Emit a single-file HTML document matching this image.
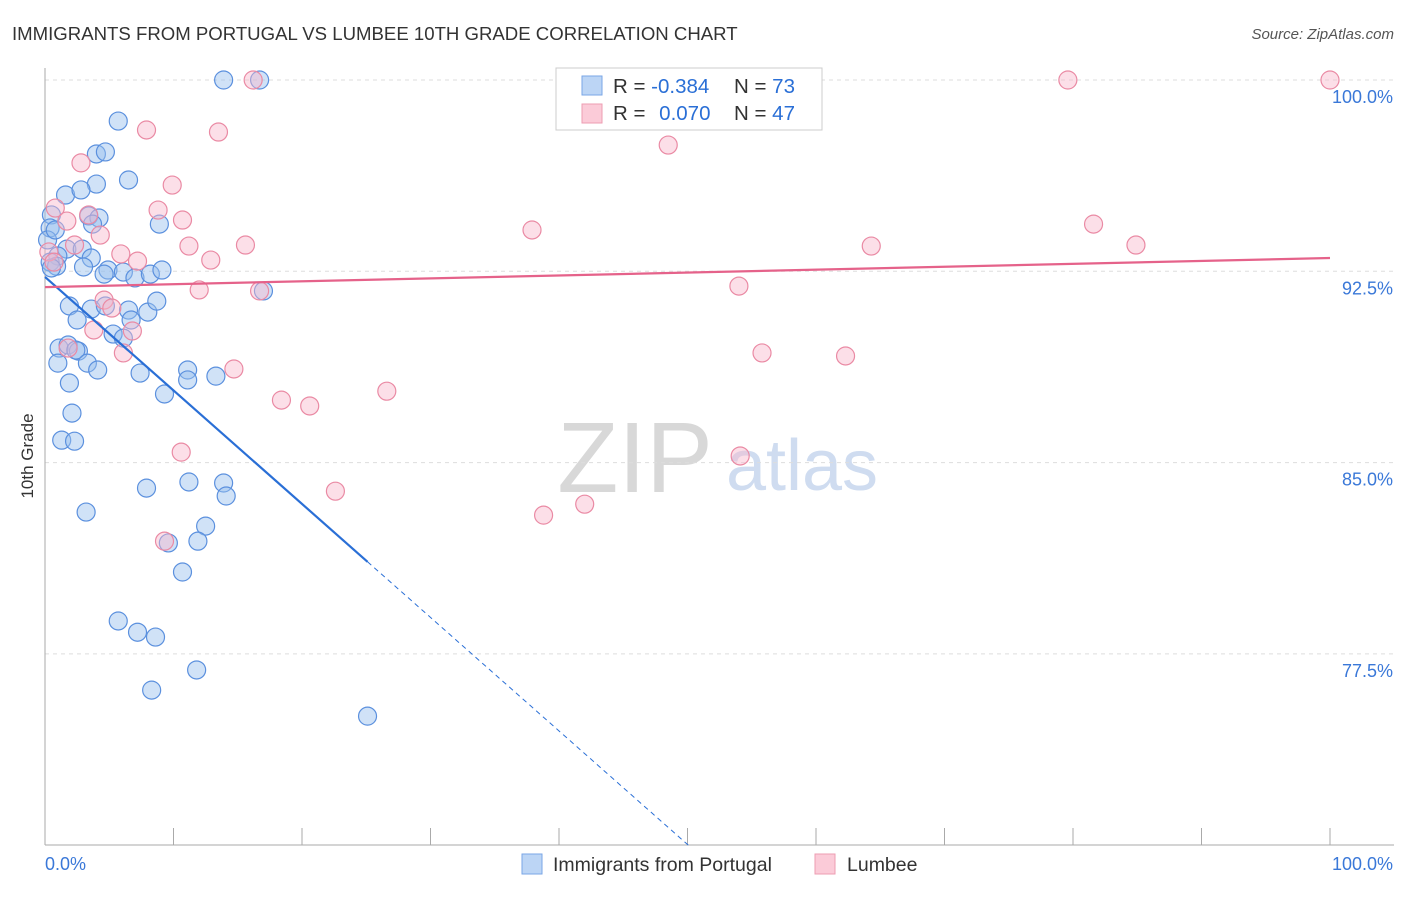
<!DOCTYPE html>
<html><head><meta charset="utf-8"><style>
body{margin:0;background:#fff;font-family:"Liberation Sans",sans-serif;}
svg text{font-family:"Liberation Sans",sans-serif;}
</style></head><body>
<svg id="chart" width="1406" height="892" xmlns="http://www.w3.org/2000/svg">
<text x="12" y="40" font-size="18.6" fill="#333">IMMIGRANTS FROM PORTUGAL VS LUMBEE 10TH GRADE CORRELATION CHART</text>
<text x="1394" y="39" font-size="15" fill="#555" font-style="italic" text-anchor="end">Source: ZipAtlas.com</text>
<g>
<text x="635" y="492" font-size="100" font-family="Liberation Serif, serif" fill="#d8d8d8" text-anchor="middle">ZIP</text>
<text x="802" y="490" font-size="72" fill="#cfdcf0" text-anchor="middle">atlas</text>
</g>
<g id="grid"></g>
<g id="axes"></g>
<g id="marks"></g>
<text transform="translate(33,456) rotate(-90)" font-size="17" fill="#333" text-anchor="middle">10th Grade</text>
<g>
<rect x="556" y="68" width="266" height="62" fill="#fff" stroke="#ccc"/>
<rect x="582" y="76" width="20" height="19" fill="#bcd5f5" stroke="#7aa6e6"/>
<rect x="582" y="104" width="20" height="19" fill="#fbcbd8" stroke="#ee9db2"/>
<text x="613" y="93" font-size="20.5" fill="#333">R = <tspan fill="#2a6fd6">-0.384</tspan></text>
<text x="734" y="93" font-size="20.5" fill="#333">N = <tspan fill="#2a6fd6">73</tspan></text>
<text x="613" y="120" font-size="20.5" fill="#333">R = <tspan fill="#2a6fd6" dx="8">0.070</tspan></text>
<text x="734" y="120" font-size="20.5" fill="#333">N = <tspan fill="#2a6fd6">47</tspan></text>
</g>
<g>
<rect x="522" y="854" width="20" height="20" fill="#bcd5f5" stroke="#7aa6e6"/>
<text x="553" y="871" font-size="19.5" fill="#333">Immigrants from Portugal</text>
<rect x="815" y="854" width="20" height="20" fill="#fbcbd8" stroke="#ee9db2"/>
<text x="847" y="871" font-size="19.5" fill="#333">Lumbee</text>
</g>
</svg>
<script>
const blueX=[13.9,16.7,5.7,4.0,4.7,6.5,4.0,1.6,2.8,0.5,3.4,4.2,3.7,8.9,0.4,0.2,1.7,2.9,1.0,3.6,0.4,0.9,0.5,3.0,4.9,4.6,6.1,7.0,8.2,9.1,17.0,1.9,3.6,4.7,6.5,8.0,8.7,2.5,6.7,5.3,6.1,1.1,1.8,2.6,2.4,1.0,3.3,4.1,7.4,11.1,11.1,13.3,9.3,1.9,2.1,1.3,2.3,3.2,7.9,11.2,13.9,14.1,12.5,9.6,11.9,10.7,5.7,7.2,8.6,11.8,8.3,25.1,0.8];
const blueY=[100,100,98.39,97.10,97.18,96.08,95.92,95.49,95.69,94.71,94.67,94.59,94.35,94.35,94.20,93.73,93.37,93.37,93.10,93.02,92.86,92.70,92.63,92.67,92.55,92.39,92.47,92.24,92.39,92.55,91.73,91.14,91.02,91.14,90.98,90.90,91.33,90.59,90.59,90.04,89.88,89.49,89.61,89.37,89.41,88.90,88.90,88.63,88.51,88.63,88.24,88.39,87.69,88.12,86.94,85.88,85.84,83.06,84.00,84.24,84.20,83.69,82.51,81.85,81.92,80.71,78.79,78.35,78.16,76.87,76.08,75.06,94.12];
const pinkX=[16.2,79.6,100,7.9,13.5,48.5,2.8,9.9,0.8,1.7,8.8,3.4,10.7,37.9,81.6,4.3,2.3,11.2,15.6,64.3,84.9,5.9,7.2,12.9,0.3,0.7,12.0,16.7,54.0,4.6,5.2,3.8,6.8,6.1,55.8,62.3,14.7,18.4,26.6,20.6,10.6,54.1,22.6,38.8,42.0,9.3,1.8];
const pinkY=[100,100,100,98.04,97.96,97.45,96.75,95.88,94.98,94.47,94.90,94.71,94.51,94.12,94.35,93.92,93.53,93.49,93.53,93.49,93.53,93.18,92.90,92.94,93.26,92.86,91.77,91.73,91.92,91.37,91.06,90.20,90.16,89.30,89.30,89.18,88.67,87.45,87.80,87.22,85.41,85.26,83.88,82.94,83.37,81.92,89.49];
const yTicks=[100,92.5,85,77.5];
const yTickLabels=["100.0%","92.5%","85.0%","77.5%"];
const xTicks=[0,10,20,30,40,50,60,70,80,90,100];
const blueTrend=[92.28,-0.445];
const pinkTrend=[91.88,0.0114];
const blueSolidEnd=25.1;

const NS="http://www.w3.org/2000/svg";
const L=45,R=1330,T=80,B=845;
function sx(v){return L+(R-L)*v/100;}
function sy(v){return T+(100-v)/7.5*191.3;}
function mk(tag,attrs,parent){const e=document.createElementNS(NS,tag);for(const k in attrs)e.setAttribute(k,attrs[k]);document.getElementById(parent).appendChild(e);return e;}

yTicks.forEach((t,i)=>{
  const g=mk('line',{x1:L,x2:1394,y1:sy(t),y2:sy(t),stroke:'#ddd','stroke-dasharray':'4,4'},'grid');
  
  
  const tx=mk('text',{x:1393,y:sy(t)+23,'font-size':18,fill:'#3a78d8','text-anchor':'end'},'axes');
  tx.textContent=yTickLabels[i];
  
  
});
let ax=mk('line',{x1:L,x2:L,y1:68,y2:B,stroke:'#aaa'},'axes');


ax=mk('line',{x1:L,x2:1394,y1:B,y2:B,stroke:'#aaa'},'axes');


xTicks.forEach(t=>{
  const tk=mk('line',{x1:sx(t),x2:sx(t),y1:828,y2:B,stroke:'#aaa'},'axes');
  
  
});
let xl=mk('text',{x:45,y:870,'font-size':18,fill:'#3a78d8'},'axes');xl.textContent='0.0%';


xl=mk('text',{x:1393,y:870,'font-size':18,fill:'#3a78d8','text-anchor':'end'},'axes');xl.textContent='100.0%';



blueX.forEach((x,i)=>{
  const c=mk('circle',{cx:sx(x),cy:sy(blueY[i]),r:9,fill:'rgba(150,190,238,0.45)',stroke:'#5b90de','stroke-width':1.2},'marks');
  
  
});
pinkX.forEach((x,i)=>{
  const c=mk('circle',{cx:sx(x),cy:sy(pinkY[i]),r:9,fill:'rgba(248,185,204,0.45)',stroke:'#ea8aa4','stroke-width':1.2},'marks');
  
  
});
const by=x=>blueTrend[0]+blueTrend[1]*x;
const xEnd=(blueTrend[0]-70)/-blueTrend[1];
let ln=mk('line',{x1:sx(0),y1:sy(by(0)),x2:sx(blueSolidEnd),y2:sy(by(blueSolidEnd)),stroke:'#2a6fd6','stroke-width':2.2},'marks');


ln=mk('line',{x1:sx(blueSolidEnd),y1:sy(by(blueSolidEnd)),x2:sx(xEnd),y2:sy(by(xEnd)),stroke:'#2a6fd6','stroke-width':1,'stroke-dasharray':'5,4'},'marks');


const py=x=>pinkTrend[0]+pinkTrend[1]*x;
ln=mk('line',{x1:sx(0),y1:sy(py(0)),x2:sx(100),y2:sy(py(100)),stroke:'#e5628a','stroke-width':2.2},'marks');


</script>
</body></html>
